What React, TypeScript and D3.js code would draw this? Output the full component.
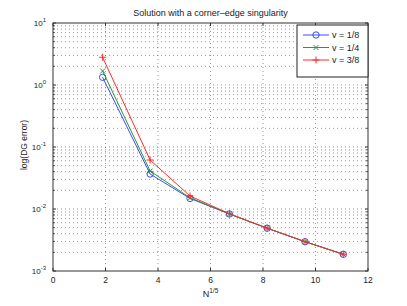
import React from "react";
import * as d3 from "d3";

const xVals = [1.89, 3.7, 5.22, 6.72, 8.16, 9.6, 11.06];
const series1 = [1.33, 0.0367, 0.0148, 0.0083, 0.0049, 0.00297, 0.00186];
const series2 = [1.68, 0.041, 0.0152, 0.0083, 0.0049, 0.00297, 0.00186];
const series3 = [2.8, 0.0617, 0.0162, 0.0084, 0.0049, 0.00298, 0.00186];
const seriesNames = ["v = 1/8", "v = 1/4", "v = 3/8"];
const seriesColors = ["#3a4cff", "#2a9a2a", "#ff2a2a"];
const xTicks = [0, 2, 4, 6, 8, 10, 12];
const yTicks = [-3, -2, -1, 0, 1];

const W = 407, H = 306;
const L = 53, R = 368, T = 23, B = 271;
const font = "'Liberation Sans', Arial, sans-serif";

export default function App() {
  const x = d3.scaleLinear().domain([0, 12]).range([L, R]);
  const y = d3.scaleLog().domain([1e-3, 10]).range([B, T]);
  const allSeries = [series1, series2, series3];
  const line = d3.line<[number, number]>().x(d => x(d[0])).y(d => y(d[1]));
  const minor: number[] = [];
  for (let e = -3; e < 1; e++) for (let k = 2; k <= 9; k++) minor.push(k * Math.pow(10, e));
  const gridColor = "#555";
  const dash = "1,3";
  return (
    <svg width={W} height={H} style={{ position: "absolute", left: 0, top: 0 }}>
      <rect x={0} y={0} width={W} height={H} fill="#fff" />
      <rect x={L} y={T} width={R - L} height={B - T} fill="#fff" />
      {/* grid */}
      {xTicks.slice(1, -1).map(t => (
        <line key={"gx" + t} x1={x(t)} x2={x(t)} y1={T} y2={B} stroke={gridColor} strokeWidth={0.6} strokeDasharray={dash} />
      ))}
      {yTicks.slice(1, -1).map(t => (
        <line key={"gy" + t} x1={L} x2={R} y1={y(Math.pow(10, t))} y2={y(Math.pow(10, t))} stroke={gridColor} strokeWidth={0.6} strokeDasharray={dash} />
      ))}
      {minor.map((v, i) => (
        <line key={"gm" + i} x1={L} x2={R} y1={y(v)} y2={y(v)} stroke={gridColor} strokeWidth={0.6} strokeDasharray={dash} />
      ))}
      {/* ticks */}
      {xTicks.map(t => (
        <g key={"xt" + t}>
          <line x1={x(t)} x2={x(t)} y1={B} y2={B - 3} stroke="#333" />
          <line x1={x(t)} x2={x(t)} y1={T} y2={T + 3} stroke="#333" />
          <text x={x(t)} y={B + 12} fontSize={8.5} fontFamily={font} textAnchor="middle" fill="#222">{t}</text>
        </g>
      ))}
      {yTicks.map(t => (
        <g key={"yt" + t}>
          <line x1={L} x2={L + 3} y1={y(Math.pow(10, t))} y2={y(Math.pow(10, t))} stroke="#333" />
          <line x1={R} x2={R - 3} y1={y(Math.pow(10, t))} y2={y(Math.pow(10, t))} stroke="#333" />
          <text x={L - 7} y={y(Math.pow(10, t)) + 3} fontSize={8} fontFamily={font} textAnchor="end" fill="#222">
            10
            <tspan dy={-4} fontSize={6}>{t}</tspan>
          </text>
        </g>
      ))}
      {minor.map((v, i) => (
        <g key={"mt" + i}>
          <line x1={L} x2={L + 2} y1={y(v)} y2={y(v)} stroke="#333" strokeWidth={0.8} />
          <line x1={R} x2={R - 2} y1={y(v)} y2={y(v)} stroke="#333" strokeWidth={0.8} />
        </g>
      ))}
      {/* axes box */}
      <rect x={L} y={T} width={R - L} height={B - T} fill="none" stroke="#333" strokeWidth={1} />
      {/* series */}
      {allSeries.map((s, si) => {
        const pts: [number, number][] = xVals.map((xv, i) => [xv, s[i]]);
        return (
          <g key={"s" + si}>
            <path d={line(pts) || ""} fill="none" stroke={seriesColors[si]} strokeWidth={1} />
            {pts.map((p, i) => {
              const cx = x(p[0]), cy = y(p[1]);
              if (si === 0) return <circle key={i} cx={cx} cy={cy} r={3.2} fill="none" stroke={seriesColors[si]} strokeWidth={1} />;
              if (si === 1) return <path key={i} d={`M${cx - 2.5},${cy - 2.5}L${cx + 2.5},${cy + 2.5}M${cx - 2.5},${cy + 2.5}L${cx + 2.5},${cy - 2.5}`} stroke={seriesColors[si]} strokeWidth={1} />;
              return <path key={i} d={`M${cx - 3.5},${cy}L${cx + 3.5},${cy}M${cx},${cy - 3.5}L${cx},${cy + 3.5}`} stroke={seriesColors[si]} strokeWidth={1} />;
            })}
          </g>
        );
      })}
      {/* legend */}
      <rect x={297} y={25} width={71} height={52} fill="#fff" stroke="#222" strokeWidth={1} />
      {seriesNames.map((n, i) => {
        const ly = 35 + i * 12.5;
        const cx = 316;
        return (
          <g key={"lg" + i}>
            <line x1={303} x2={329} y1={ly} y2={ly} stroke={seriesColors[i]} strokeWidth={1} />
            {i === 0 && <circle cx={cx} cy={ly} r={3.2} fill="none" stroke={seriesColors[i]} />}
            {i === 1 && <path d={`M${cx - 2.5},${ly - 2.5}L${cx + 2.5},${ly + 2.5}M${cx - 2.5},${ly + 2.5}L${cx + 2.5},${ly - 2.5}`} stroke={seriesColors[i]} />}
            {i === 2 && <path d={`M${cx - 3.5},${ly}L${cx + 3.5},${ly}M${cx},${ly - 3.5}L${cx},${ly + 3.5}`} stroke={seriesColors[i]} />}
            <text x={332} y={ly + 3.2} fontSize={9} fontFamily={font} fill="#222">{n}</text>
          </g>
        );
      })}
      {/* labels */}
      <text x={(L + R) / 2} y={16} fontSize={9} fontFamily={font} textAnchor="middle" fill="#222">Solution with a corner–edge singularity</text>
      <text x={(L + R) / 2} y={297} fontSize={9} fontFamily={font} textAnchor="middle" fill="#222">
        N<tspan dy={-4} fontSize={6.5}>1/5</tspan>
      </text>
      <text transform={`translate(27,145) rotate(-90)`} fontSize={8.5} fontFamily={font} textAnchor="middle" fill="#222">log(DG error)</text>
    </svg>
  );
}
